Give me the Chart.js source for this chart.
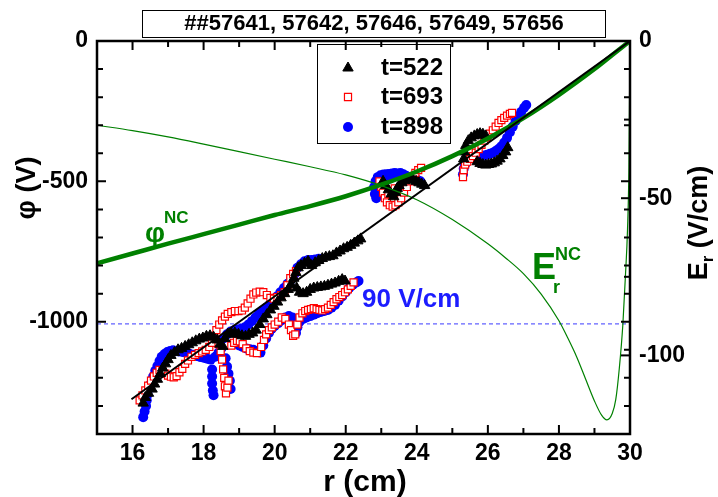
<!DOCTYPE html>
<html>
<head>
<meta charset="utf-8">
<script src="https://cdn.jsdelivr.net/npm/chart.js@4/dist/chart.umd.min.js"></script>
<style>
    body { margin: 0; background: #fff; }
</style>
</head>
<body>
<canvas id="phiChart" width="718" height="497"></canvas>
<script>
const FONT = "'Liberation Sans', Arial, sans-serif";

const titleText = '##57641, 57642, 57646, 57649, 57656';
const seriesNames = ['t=522', 't=693', 't=898'];

const xTicks = [16, 18, 20, 22, 24, 26, 28, 30];
const phiTicks = [-1000, -500, 0];
const erTicks = [-100, -50, 0];

// phi^NC (left axis, V)
const rPhiNC = [15, 16, 17, 18, 19, 20, 21, 22, 23, 24, 25, 26, 27, 28, 29, 29.5, 30];
const phiNC = [-792, -757, -722, -688, -654, -620, -588, -553, -512, -465, -410, -347, -275, -192, -100, -50, 0];

// E_r^NC (right axis, V/cm)
const rErNC = [15, 16, 17, 18, 19, 20, 21, 22, 23, 24, 25, 26, 26.5, 27, 27.5, 28, 28.25, 28.5, 28.75, 29,
    29.2, 29.35, 29.5, 29.6, 29.7, 29.8, 29.87, 29.93, 29.97, 30];
const erNC = [-26.8, -28.5, -30.5, -32.8, -35.2, -37.6, -40, -42.6, -46, -50.5, -56.8, -64.5, -69, -74, -80.5, -89,
    -94.5, -100.5, -107.5, -114.5, -119, -120.5, -118.5, -114, -104, -90, -75, -60, -40, 0];

// straight 90 V/cm line
const fitR = [15.97, 30];
const fitPhi = [-1276, 0];
const dashedEr = -90;

// measured phi(r), t=522
const t522 = [
    [16.30, -1290], [16.36, -1270], [16.45, -1255], [16.55, -1240], [16.62, -1222], [16.70, -1205], [16.78, -1185],
    [16.85, -1165], [16.93, -1150], [17.00, -1135], [17.08, -1120], [17.18, -1110], [17.28, -1100], [17.38, -1095],
    [17.48, -1088], [17.58, -1082], [17.68, -1075], [17.78, -1068], [17.88, -1062], [17.98, -1058], [18.08, -1052],
    [18.18, -1050], [18.28, -1055], [18.38, -1065], [18.46, -1080], [18.54, -1088], [18.60, -1060], [18.68, -1045],
    [18.78, -1042], [18.88, -1040], [18.98, -1045], [19.08, -1050], [19.18, -1052], [19.28, -1045], [19.38, -1040],
    [19.48, -1030], [19.58, -1010], [19.68, -990], [19.78, -975], [19.88, -958], [19.98, -945], [20.08, -930],
    [20.18, -915], [20.28, -900], [20.38, -885], [20.46, -868], [20.54, -845], [20.60, -825], [20.66, -808],
    [20.74, -800], [20.84, -792], [20.94, -785], [21.04, -800], [21.14, -790], [21.24, -782], [21.34, -775],
    [21.44, -770], [21.54, -768], [21.64, -765], [21.74, -755], [21.84, -748], [21.94, -740], [22.04, -735],
    [22.14, -728], [22.24, -720], [22.34, -712], [22.42, -705],
    [20.62, -880], [20.70, -895], [20.80, -900], [20.90, -895], [21.00, -885], [21.10, -880], [21.20, -878],
    [21.30, -876], [21.40, -874], [21.50, -870], [21.60, -866], [21.70, -862], [21.80, -856], [21.90, -850],
    [21.98, -855],
    [23.05, -500], [23.12, -515], [23.20, -530], [23.28, -545], [23.35, -555], [23.40, -540], [23.45, -525],
    [23.50, -515], [23.58, -505], [23.66, -498], [23.74, -495], [23.82, -492], [23.90, -495], [23.98, -500],
    [24.06, -505], [24.14, -510], [24.22, -515],
    [25.32, -420], [25.34, -395], [25.38, -372], [25.45, -355], [25.53, -345], [25.62, -338], [25.70, -333],
    [25.78, -330], [25.86, -332], [25.94, -338],
    [25.70, -430], [25.78, -436], [25.86, -440], [25.94, -442], [26.02, -440], [26.10, -438], [26.18, -434],
    [26.26, -428], [26.34, -420], [26.42, -408], [26.50, -395], [26.56, -380],
];

// measured phi(r), t=693
const t693 = [
    [16.20, -1280], [16.28, -1262], [16.36, -1245], [16.44, -1228], [16.52, -1210], [16.60, -1195], [16.68, -1182],
    [16.76, -1172], [16.84, -1175], [16.92, -1185], [17.00, -1192], [17.08, -1196], [17.16, -1198], [17.24, -1194],
    [17.32, -1180], [17.40, -1168], [17.48, -1150], [17.56, -1138], [17.66, -1125], [17.76, -1118], [17.86, -1112],
    [17.96, -1106], [18.06, -1100], [18.16, -1090], [18.24, -1075], [18.30, -1052], [18.36, -1030], [18.44, -1010],
    [18.52, -995], [18.60, -982], [18.68, -972], [18.78, -966], [18.88, -962], [18.98, -962], [19.08, -960],
    [19.16, -950], [19.24, -935], [19.32, -918], [19.40, -903], [19.48, -896], [19.58, -893], [19.68, -895],
    [19.78, -905], [19.88, -915], [19.98, -918], [20.08, -912], [20.18, -905], [20.28, -895], [20.36, -870],
    [20.44, -845], [20.52, -830], [20.60, -820],
    [18.42, -1080], [18.48, -1105], [18.52, -1135], [18.55, -1170], [18.58, -1200], [18.60, -1230], [18.63, -1255],
    [18.67, -1235], [18.70, -1210],
    [18.78, -1085], [18.86, -1075], [18.94, -1068], [19.02, -1070], [19.10, -1080], [19.20, -1095], [19.30, -1105],
    [19.40, -1110], [19.50, -1112], [19.62, -1090], [19.70, -1065], [19.76, -1045], [19.84, -1030], [19.92, -1020],
    [20.00, -1010], [20.10, -1000], [20.20, -985], [20.30, -990], [20.40, -1010], [20.46, -1030], [20.52, -1050],
    [20.58, -1045], [20.64, -1010], [20.70, -985], [20.78, -970], [20.86, -962], [20.94, -958], [21.02, -955],
    [21.10, -952], [21.18, -955], [21.26, -958], [21.34, -960], [21.42, -955], [21.50, -950], [21.58, -940],
    [21.66, -930], [21.74, -920], [21.82, -912], [21.90, -905], [21.98, -895], [22.06, -885], [22.14, -872],
    [22.22, -860],
    [22.95, -500], [23.00, -520], [23.05, -540], [23.10, -560], [23.16, -575], [23.24, -585], [23.32, -590],
    [23.40, -585], [23.48, -575], [23.56, -560], [23.64, -540], [23.72, -520], [23.80, -500], [23.88, -485],
    [23.96, -470], [24.04, -460], [24.12, -452], [23.20, -545], [23.30, -540], [23.38, -525],
    [25.30, -485], [25.32, -460], [25.36, -440], [25.42, -430], [25.50, -420], [25.58, -410], [25.66, -398],
    [25.74, -385], [25.82, -370], [25.90, -355], [25.98, -342], [26.06, -330], [26.14, -318], [26.22, -305],
    [26.30, -292], [26.38, -282], [26.46, -274], [26.54, -266], [26.62, -260], [26.68, -256],
];

// measured phi(r), t=898
const t898 = [
    [16.30, -1340], [16.34, -1320], [16.38, -1300], [16.40, -1280], [16.42, -1260], [16.46, -1240], [16.52, -1220],
    [16.58, -1195], [16.64, -1175], [16.70, -1158], [16.76, -1140], [16.82, -1125], [16.90, -1115], [16.98, -1108],
    [17.06, -1104], [17.14, -1102], [17.22, -1104], [17.30, -1106], [17.40, -1108], [17.50, -1110], [17.60, -1114],
    [17.70, -1118], [17.80, -1122], [17.90, -1126], [18.00, -1128], [18.10, -1132], [18.20, -1135],
    [18.24, -1170], [18.24, -1195], [18.24, -1220], [18.26, -1245], [18.28, -1262],
    [18.33, -1125], [18.42, -1110], [18.50, -1095],
    [18.62, -1130], [18.66, -1160], [18.70, -1185], [18.74, -1210], [18.76, -1240],
    [18.46, -1075], [18.56, -1060], [18.66, -1045], [18.76, -1035], [18.86, -1030], [18.96, -1028], [19.06, -1025],
    [19.16, -1020], [19.26, -1010], [19.36, -998], [19.46, -985], [19.56, -970], [19.66, -960], [19.76, -950],
    [19.86, -940], [19.96, -925], [20.06, -910], [20.16, -895], [20.26, -880], [20.36, -865], [20.46, -850],
    [20.56, -830], [20.64, -808], [20.74, -795], [20.84, -785], [20.94, -780], [21.04, -780], [21.14, -778],
    [21.24, -776],
    [19.00, -1085], [19.10, -1090], [19.20, -1095], [19.30, -1098], [19.40, -1100], [19.50, -1105], [19.60, -1110],
    [19.68, -1085], [19.76, -1060], [19.84, -1040], [19.92, -1025], [20.00, -1015], [20.10, -1005], [20.20, -995],
    [20.30, -985], [20.40, -980], [20.50, -985], [20.56, -1010], [20.60, -1040], [20.64, -1020], [20.70, -1000],
    [20.80, -990], [20.90, -985], [21.00, -980], [21.10, -975], [21.20, -970], [21.30, -965], [21.40, -962],
    [21.50, -958], [21.60, -950], [21.70, -940], [21.80, -925], [21.90, -910], [22.00, -895], [22.10, -880],
    [22.20, -868], [22.30, -860], [22.36, -855],
    [22.80, -520], [22.82, -545], [22.86, -560], [22.84, -500], [22.90, -485], [22.98, -478], [23.06, -476],
    [23.14, -475], [23.22, -474], [23.30, -472], [23.38, -470], [23.46, -472], [23.54, -470], [23.62, -475],
    [23.70, -480], [23.78, -485], [23.86, -488], [23.94, -490], [24.02, -495], [24.10, -500], [22.95, -505],
    [23.05, -495], [23.15, -490], [23.25, -490],
    [25.30, -475], [25.32, -455], [25.36, -440], [25.42, -425], [25.50, -418], [25.58, -415], [25.66, -414],
    [25.74, -412], [25.82, -410], [25.90, -408], [25.98, -405], [26.06, -402], [26.14, -398], [26.22, -392],
    [26.30, -385], [26.38, -375], [26.46, -362], [26.54, -345], [26.62, -325], [26.70, -305], [26.78, -285],
    [26.86, -268], [26.94, -252], [27.02, -238], [27.08, -228],
];

const GREEN = '#008000';
const markerStyles = [
    { pointStyle: 'triangle', pointRadius: 6, backgroundColor: '#000', borderColor: '#000', borderWidth: 1 },
    { pointStyle: 'rect', pointRadius: 5, backgroundColor: '#fff', borderColor: '#ff0000', borderWidth: 1.2 },
    { pointStyle: 'circle', pointRadius: 5, backgroundColor: '#0000ff', borderColor: '#0000ff', borderWidth: 0 },
];

document.addEventListener('DOMContentLoaded', () => {
    showPhiChart();
});

function toXY(xs, ys) {
    return xs.map((x, i) => ({ x: x, y: ys[i] }));
}

function drawMarker(ctx, style, x, y) {
    const r = style.pointRadius;
    ctx.fillStyle = style.backgroundColor;
    ctx.strokeStyle = style.borderColor;
    ctx.lineWidth = style.borderWidth || 1;
    ctx.beginPath();
    if (style.pointStyle === 'triangle') {
        ctx.moveTo(x, y - r);
        ctx.lineTo(x + r * 0.866, y + r / 2);
        ctx.lineTo(x - r * 0.866, y + r / 2);
        ctx.closePath();
    } else if (style.pointStyle === 'rect') {
        const s = r * Math.SQRT1_2;
        ctx.rect(x - s, y - s, 2 * s, 2 * s);
    } else {
        ctx.arc(x, y, r, 0, Math.PI * 2);
    }
    ctx.fill();
    if (style.borderWidth) ctx.stroke();
}

function tickRange(from, to, step) {
    const out = [];
    for (let v = from; v <= to + 1e-9; v += step) out.push(Math.round(v * 1000) / 1000);
    return out;
}

const decorPlugin = {
    id: 'decor',
    afterDatasetsDraw(chart) {
        const { ctx, chartArea: a, scales } = chart;
        ctx.save();
        ctx.strokeStyle = '#000';
        ctx.lineWidth = 2;

        // inward ticks on all four sides
        tickRange(16, 29, 1).forEach(v => {
            const p = scales.x.getPixelForValue(v);
            const len = v % 2 === 0 ? 9 : 6;
            ctx.beginPath();
            ctx.moveTo(p, a.bottom); ctx.lineTo(p, a.bottom - len);
            ctx.moveTo(p, a.top); ctx.lineTo(p, a.top + len);
            ctx.stroke();
        });
        tickRange(-1300, -100, 100).forEach(v => {
            const p = scales.y.getPixelForValue(v);
            const len = v % 500 === 0 ? 9 : 6;
            ctx.beginPath();
            ctx.moveTo(a.left, p); ctx.lineTo(a.left + len, p);
            ctx.moveTo(a.right, p); ctx.lineTo(a.right - len, p);
            ctx.stroke();
        });
        tickRange(-100, -25, 25).forEach(v => {
            const p = scales.y2.getPixelForValue(v);
            const len = v % 50 === 0 ? 9 : 6;
            ctx.beginPath();
            ctx.moveTo(a.right, p); ctx.lineTo(a.right - len, p);
            ctx.stroke();
        });

        ctx.lineWidth = 2.5;
        ctx.strokeRect(a.left, a.top, a.right - a.left, a.bottom - a.top);
        ctx.restore();
    },
    afterDraw(chart) {
        const { ctx } = chart;
        ctx.save();
        ctx.textBaseline = 'middle';
        ctx.textAlign = 'center';

        // title box
        ctx.strokeStyle = '#000';
        ctx.lineWidth = 1;
        ctx.strokeRect(142.5, 10.5, 463, 27);
        ctx.fillStyle = '#000';
        ctx.font = 'bold 22px ' + FONT;
        ctx.fillText(titleText, 374, 24);

        // legend box
        ctx.strokeRect(317.5, 44.5, 133, 99);
        ctx.textAlign = 'left';
        ctx.font = 'bold 24px ' + FONT;
        const rows = [68, 97, 127];
        seriesNames.forEach((name, i) => {
            drawMarker(ctx, markerStyles[i], 348, rows[i]);
            ctx.fillStyle = '#000';
            ctx.fillText(name, 381, rows[i]);
        });

        // axis titles
        ctx.textAlign = 'center';
        ctx.fillStyle = '#000';
        ctx.font = 'bold 30px ' + FONT;
        ctx.fillText('r (cm)', 365, 483);

        ctx.save();
        ctx.translate(28, 188);
        ctx.rotate(-Math.PI / 2);
        ctx.font = 'bold 27px ' + FONT;
        ctx.fillText('\u03c6 (V)', 0, 0);
        ctx.restore();

        ctx.save();
        ctx.translate(700, 223);
        ctx.rotate(-Math.PI / 2);
        ctx.textAlign = 'left';
        ctx.font = 'bold 27px ' + FONT;
        const wE = ctx.measureText('E').width;
        const wRest = ctx.measureText(' (V/cm)').width;
        ctx.font = 'bold 17px ' + FONT;
        const wR = ctx.measureText('r').width;
        const x0 = -(wE + wR + wRest) / 2;
        ctx.font = 'bold 27px ' + FONT;
        ctx.fillText('E', x0, 0);
        ctx.font = 'bold 17px ' + FONT;
        ctx.fillText('r', x0 + wE, 8);
        ctx.font = 'bold 27px ' + FONT;
        ctx.fillText(' (V/cm)', x0 + wE + wR, 0);
        ctx.restore();

        // curve annotations
        ctx.textAlign = 'left';
        ctx.textBaseline = 'alphabetic';
        ctx.fillStyle = GREEN;
        ctx.font = 'bold 28px ' + FONT;
        ctx.fillText('\u03c6', 145, 242);
        ctx.font = 'bold 17px ' + FONT;
        ctx.fillText('NC', 164, 223);
        ctx.font = 'bold 36px ' + FONT;
        ctx.fillText('E', 532, 279);
        ctx.font = 'bold 18px ' + FONT;
        ctx.fillText('NC', 555, 260);
        ctx.fillText('r', 553, 293);

        ctx.fillStyle = '#1c1cff';
        ctx.font = 'bold 26px ' + FONT;
        ctx.fillText('90 V/cm', 362, 307);
        ctx.restore();
    },
};

function showPhiChart() {
    const ctx = document.getElementById('phiChart').getContext('2d');
    Chart.defaults.font.family = FONT;
    Chart.defaults.color = '#000';

    const pointSets = [t522, t693, t898].map((pts, i) => Object.assign({
        label: seriesNames[i],
        data: pts.map(p => ({ x: p[0], y: p[1] })),
        yAxisID: 'y',
        showLine: false,
        order: i + 1,
    }, markerStyles[i]));

    new Chart(ctx, {
        type: 'scatter',
        data: {
            datasets: [
                {
                    label: 'fit',
                    data: toXY(fitR, fitPhi),
                    yAxisID: 'y',
                    showLine: true,
                    borderColor: '#000',
                    borderWidth: 2,
                    pointRadius: 0,
                    order: 0,
                },
                {
                    label: 'phiNC',
                    data: toXY(rPhiNC, phiNC),
                    yAxisID: 'y',
                    showLine: true,
                    borderColor: GREEN,
                    borderWidth: 4.5,
                    pointRadius: 0,
                    cubicInterpolationMode: 'monotone',
                    order: 0,
                },
                {
                    label: 'ErNC',
                    data: toXY(rErNC, erNC),
                    yAxisID: 'y2',
                    showLine: true,
                    borderColor: GREEN,
                    borderWidth: 1.2,
                    pointRadius: 0,
                    cubicInterpolationMode: 'monotone',
                    order: 0,
                },
                {
                    label: '90 V/cm',
                    data: toXY([15, 30], [dashedEr, dashedEr]),
                    yAxisID: 'y2',
                    showLine: true,
                    borderColor: 'rgba(70, 70, 255, 0.85)',
                    borderWidth: 1.2,
                    borderDash: [4, 3],
                    pointRadius: 0,
                    order: 5,
                },
                ...pointSets,
            ],
        },
        options: {
            responsive: false,
            animation: false,
            layout: { padding: { top: 41, left: 0, right: 0, bottom: 0 } },
            plugins: {
                legend: { display: false },
                tooltip: { enabled: false },
            },
            scales: {
                x: {
                    type: 'linear',
                    position: 'bottom',
                    min: 15,
                    max: 30,
                    afterFit: scale => { scale.height = 63; },
                    afterBuildTicks: scale => { scale.ticks = xTicks.map(v => ({ value: v })); },
                    grid: { display: false, drawTicks: false },
                    border: { display: false },
                    ticks: { font: { size: 23, weight: 'bold' }, padding: 6, maxRotation: 0 },
                },
                y: {
                    type: 'linear',
                    position: 'left',
                    min: -1400,
                    max: 0,
                    afterFit: scale => { scale.width = 97; },
                    afterBuildTicks: scale => { scale.ticks = phiTicks.map(v => ({ value: v })); },
                    grid: { display: false, drawTicks: false },
                    border: { display: false },
                    ticks: { font: { size: 23, weight: 'bold' }, padding: 9, callback: v => String(v) },
                },
                y2: {
                    type: 'linear',
                    position: 'right',
                    min: -125,
                    max: 0,
                    afterFit: scale => { scale.width = 88; },
                    afterBuildTicks: scale => { scale.ticks = erTicks.map(v => ({ value: v })); },
                    grid: { display: false, drawTicks: false },
                    border: { display: false },
                    ticks: { font: { size: 23, weight: 'bold' }, padding: 9, callback: v => String(v) },
                },
            },
        },
        plugins: [decorPlugin],
    });
}
</script>
</body>
</html>
